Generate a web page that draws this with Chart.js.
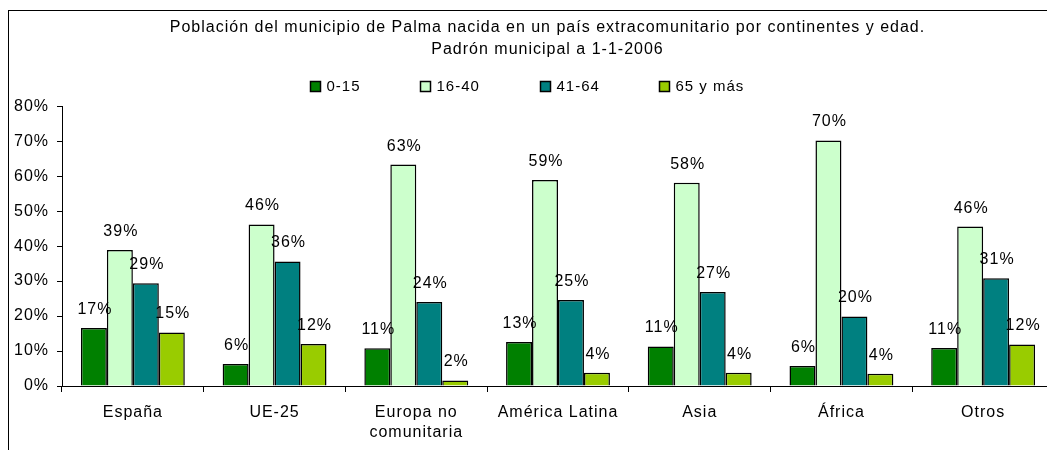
<!DOCTYPE html>
<html>
<head>
<meta charset="UTF-8">
<title>Población por continentes y edad</title>
<style>
    html, body {
        margin: 0;
        padding: 0;
        overflow: hidden;
        background: #fff;
    }
    #frame {
        position: absolute;
        left: 8px;
        top: 10px;
        width: 1060px;
        height: 460px;
        border: 1px solid #000;
    }
    #chartBox {
        position: absolute;
        left: 0;
        top: 0;
        width: 1060px;
        height: 460px;
    }
</style>
<script src="https://cdn.jsdelivr.net/npm/chart.js"></script>
</head>
<body>

<div id="frame">
    <div id="chartBox">
        <canvas id="popChart"></canvas>
    </div>
</div>

<script>
// continentes (eje x)
const categories = ['España', 'UE-25', ['Europa no', 'comunitaria'], 'América Latina', 'Asia', 'África', 'Otros'];
const seriesNames = ['0-15', '16-40', '41-64', '65 y más'];

// % de población por grupo de edad
const age0_15  = [16.6, 6.3, 10.8, 12.6, 11.3, 5.7, 10.9];
const age16_40 = [38.9, 46.2, 63.3, 58.9, 58.1, 70.2, 45.6];
const age41_64 = [29.4, 35.6, 24.0, 24.6, 26.9, 19.9, 30.8];
const age65    = [15.3, 12.0, 1.6, 3.8, 3.8, 3.5, 11.9];

const yTicks = [0, 10, 20, 30, 40, 50, 60, 70, 80];

const colors = ['#008000', '#CCFFCC', '#008080', '#99CC00'];
const FONT = "'Liberation Sans', Arial, sans-serif";

function setSpacing(chart) {
    chart.ctx.letterSpacing = '1px';
}

const spacingPlugin = {
    id: 'spacing',
    beforeUpdate: setSpacing,
    beforeLayout: setSpacing,
    beforeDraw: setSpacing,
    afterLayout(chart) {
        // el título va un poco a la derecha del centro del lienzo
        if (chart.titleBlock) chart.titleBlock.left += 32;
    }
};

// etiquetas de valor encima de cada barra
const valueLabels = {
    id: 'valueLabels',
    afterDatasetsDraw(chart) {
        const ctx = chart.ctx;
        ctx.save();
        ctx.font = '16px ' + FONT;
        ctx.fillStyle = '#000';
        ctx.textAlign = 'center';
        ctx.textBaseline = 'alphabetic';
        chart.data.datasets.forEach((ds, i) => {
            chart.getDatasetMeta(i).data.forEach((bar, j) => {
                ctx.fillText(Math.round(ds.data[j]) + '%', bar.x + 1, bar.y - 14);
            });
        });
        ctx.restore();
    }
};

// leyenda en una fila, como en la hoja de cálculo
const boxLegend = {
    id: 'boxLegend',
    afterDraw(chart) {
        const ctx = chart.ctx;
        const starts = [301.5, 411.5, 531.5, 650.5];
        ctx.save();
        ctx.font = '15px ' + FONT;
        ctx.textAlign = 'left';
        ctx.textBaseline = 'middle';
        chart.data.datasets.forEach((ds, i) => {
            const x = starts[i];
            const y = 70.5;
            ctx.fillStyle = ds.backgroundColor;
            ctx.fillRect(x, y, 10, 10);
            ctx.strokeStyle = '#000';
            ctx.lineWidth = 1.5;
            ctx.strokeRect(x, y, 10, 10);
            ctx.fillStyle = '#000';
            ctx.fillText(ds.label, x + 16, y + 5.5);
        });
        ctx.restore();
    }
};

const datasets = [age0_15, age16_40, age41_64, age65].map((values, i) => ({
    label: seriesNames[i],
    data: values,
    backgroundColor: colors[i],
    borderColor: '#000',
    borderWidth: 1.5
}));

const ctx = document.getElementById('popChart').getContext('2d');
new Chart(ctx, {
    type: 'bar',
    data: {
        labels: categories,
        datasets: datasets
    },
    options: {
        responsive: true,
        maintainAspectRatio: false,
        animation: false,
        layout: {
            padding: { left: 0, right: 15, top: 0, bottom: 0 }
        },
        datasets: {
            bar: {
                categoryPercentage: 0.733,
                barPercentage: 1
            }
        },
        plugins: {
            legend: { display: false },
            tooltip: { enabled: false },
            title: {
                display: true,
                text: ['Población del municipio de Palma nacida en un país extracomunitario por continentes y edad.',
                       'Padrón municipal a 1-1-2006'],
                color: '#000',
                font: { family: FONT, size: 16, weight: 'normal', lineHeight: 1.35 },
                padding: { top: 6, bottom: 46 }
            }
        },
        scales: {
            x: {
                grid: {
                    offset: true,
                    drawOnChartArea: false,
                    drawTicks: true,
                    tickLength: 6,
                    color: '#000'
                },
                border: { display: true, color: '#000' },
                ticks: {
                    color: '#000',
                    padding: 11,
                    maxRotation: 0,
                    autoSkip: false,
                    font: { family: FONT, size: 16, lineHeight: 1.25 }
                },
                afterFit(scale) { scale.height = 85; }
            },
            y: {
                min: 0,
                max: 80,
                afterBuildTicks(scale) {
                    scale.ticks = yTicks.map(v => ({ value: v }));
                },
                grid: {
                    drawOnChartArea: false,
                    drawTicks: true,
                    tickLength: 5,
                    color: '#000'
                },
                border: { display: true, color: '#000' },
                ticks: {
                    color: '#000',
                    padding: 8,
                    font: { family: FONT, size: 16 },
                    callback: v => v + '%'
                },
                afterFit(scale) { scale.width = 53; }
            }
        }
    },
    plugins: [spacingPlugin, valueLabels, boxLegend]
});
</script>

</body>
</html>
